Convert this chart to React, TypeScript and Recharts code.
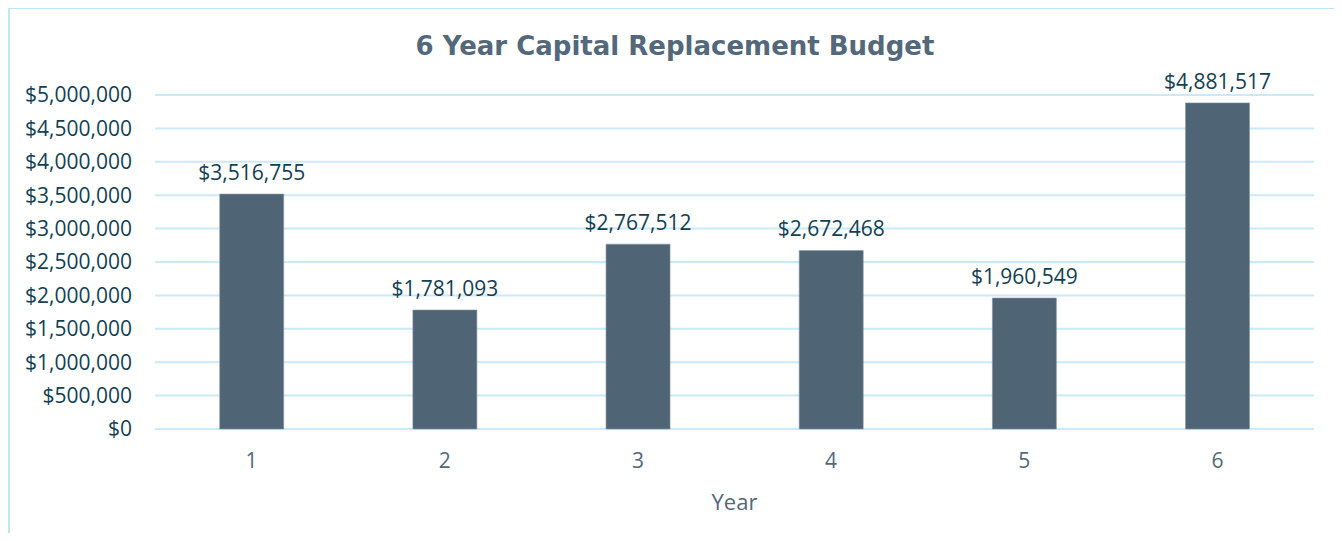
import React from 'react'
import { BarChart, Bar, XAxis, YAxis, CartesianGrid, LabelList, Label } from 'recharts'

const years = ['1', '2', '3', '4', '5', '6']
const budget = [3516755, 1781093, 2767512, 2672468, 1960549, 4881517]
const yTicks = [0, 500000, 1000000, 1500000, 2000000, 2500000, 3000000, 3500000, 4000000, 4500000, 5000000]

const BAR = '#4F6475'
const GRID = '#C9EAF6'
const FRAME = '#BFE6F4'
const TEAL = '#123F52'
const SLATE = '#53687A'
const FONT = '"Open Sans", sans-serif'

const money = (v: number) => '$' + Number(v).toLocaleString('en-US')

export default function App() {
  const data = years.map((y, i) => ({ year: y, value: budget[i] }))

  return (
    <div style={{ position: 'relative', margin: -8, width: 1342, height: 541, overflow: 'hidden', background: '#fff' }}>
      <div style={{ position: 'absolute', left: 0, top: 0 }}>
        <BarChart
          width={1342}
          height={541}
          data={data}
          margin={{ top: 95, right: 28, left: 0, bottom: 0 }}
          barCategoryGap="33.5%"
        >
          <CartesianGrid vertical={false} stroke={GRID} strokeWidth={2} />
          <XAxis
            dataKey="year"
            height={112}
            axisLine={false}
            tickLine={false}
            tickSize={0}
            tickMargin={24}
            tick={{ fill: SLATE, fontSize: 21, fontFamily: FONT }}
          >
            <Label
              value="Year"
              position="insideBottom"
              offset={31}
              style={{ fill: SLATE, fontSize: 22, fontFamily: FONT }}
            />
          </XAxis>
          <YAxis
            width={155}
            domain={[0, 5000000]}
            ticks={yTicks}
            interval={0}
            axisLine={false}
            tickLine={false}
            tickSize={0}
            tickMargin={23}
            tickFormatter={money}
            tick={{ fill: TEAL, fontSize: 21, fontFamily: FONT }}
          />
          <Bar dataKey="value" fill={BAR} stroke="#8796A3" strokeWidth={0.6} isAnimationActive={false}>
            <LabelList
              dataKey="value"
              position="top"
              offset={14}
              formatter={(v: any) => money(v)}
              style={{ fill: TEAL, fontSize: 21, fontFamily: FONT }}
            />
          </Bar>
        </BarChart>
      </div>
      <div
        style={{
          position: 'absolute',
          left: 0,
          top: 31,
          width: 1350,
          textAlign: 'center',
          fontFamily: '"DejaVu Sans", Verdana, sans-serif',
          fontWeight: 'bold',
          fontSize: 26,
          lineHeight: '30px',
          color: SLATE,
        }}
      >
        6 Year Capital Replacement Budget
      </div>
      {/* chart frame: only the top and left edges fall inside the picture */}
      <div style={{ position: 'absolute', left: 8, top: 7, width: 1334, height: 2, background: FRAME }} />
      <div style={{ position: 'absolute', left: 8, top: 7, width: 2, height: 534, background: FRAME }} />
    </div>
  )
}
